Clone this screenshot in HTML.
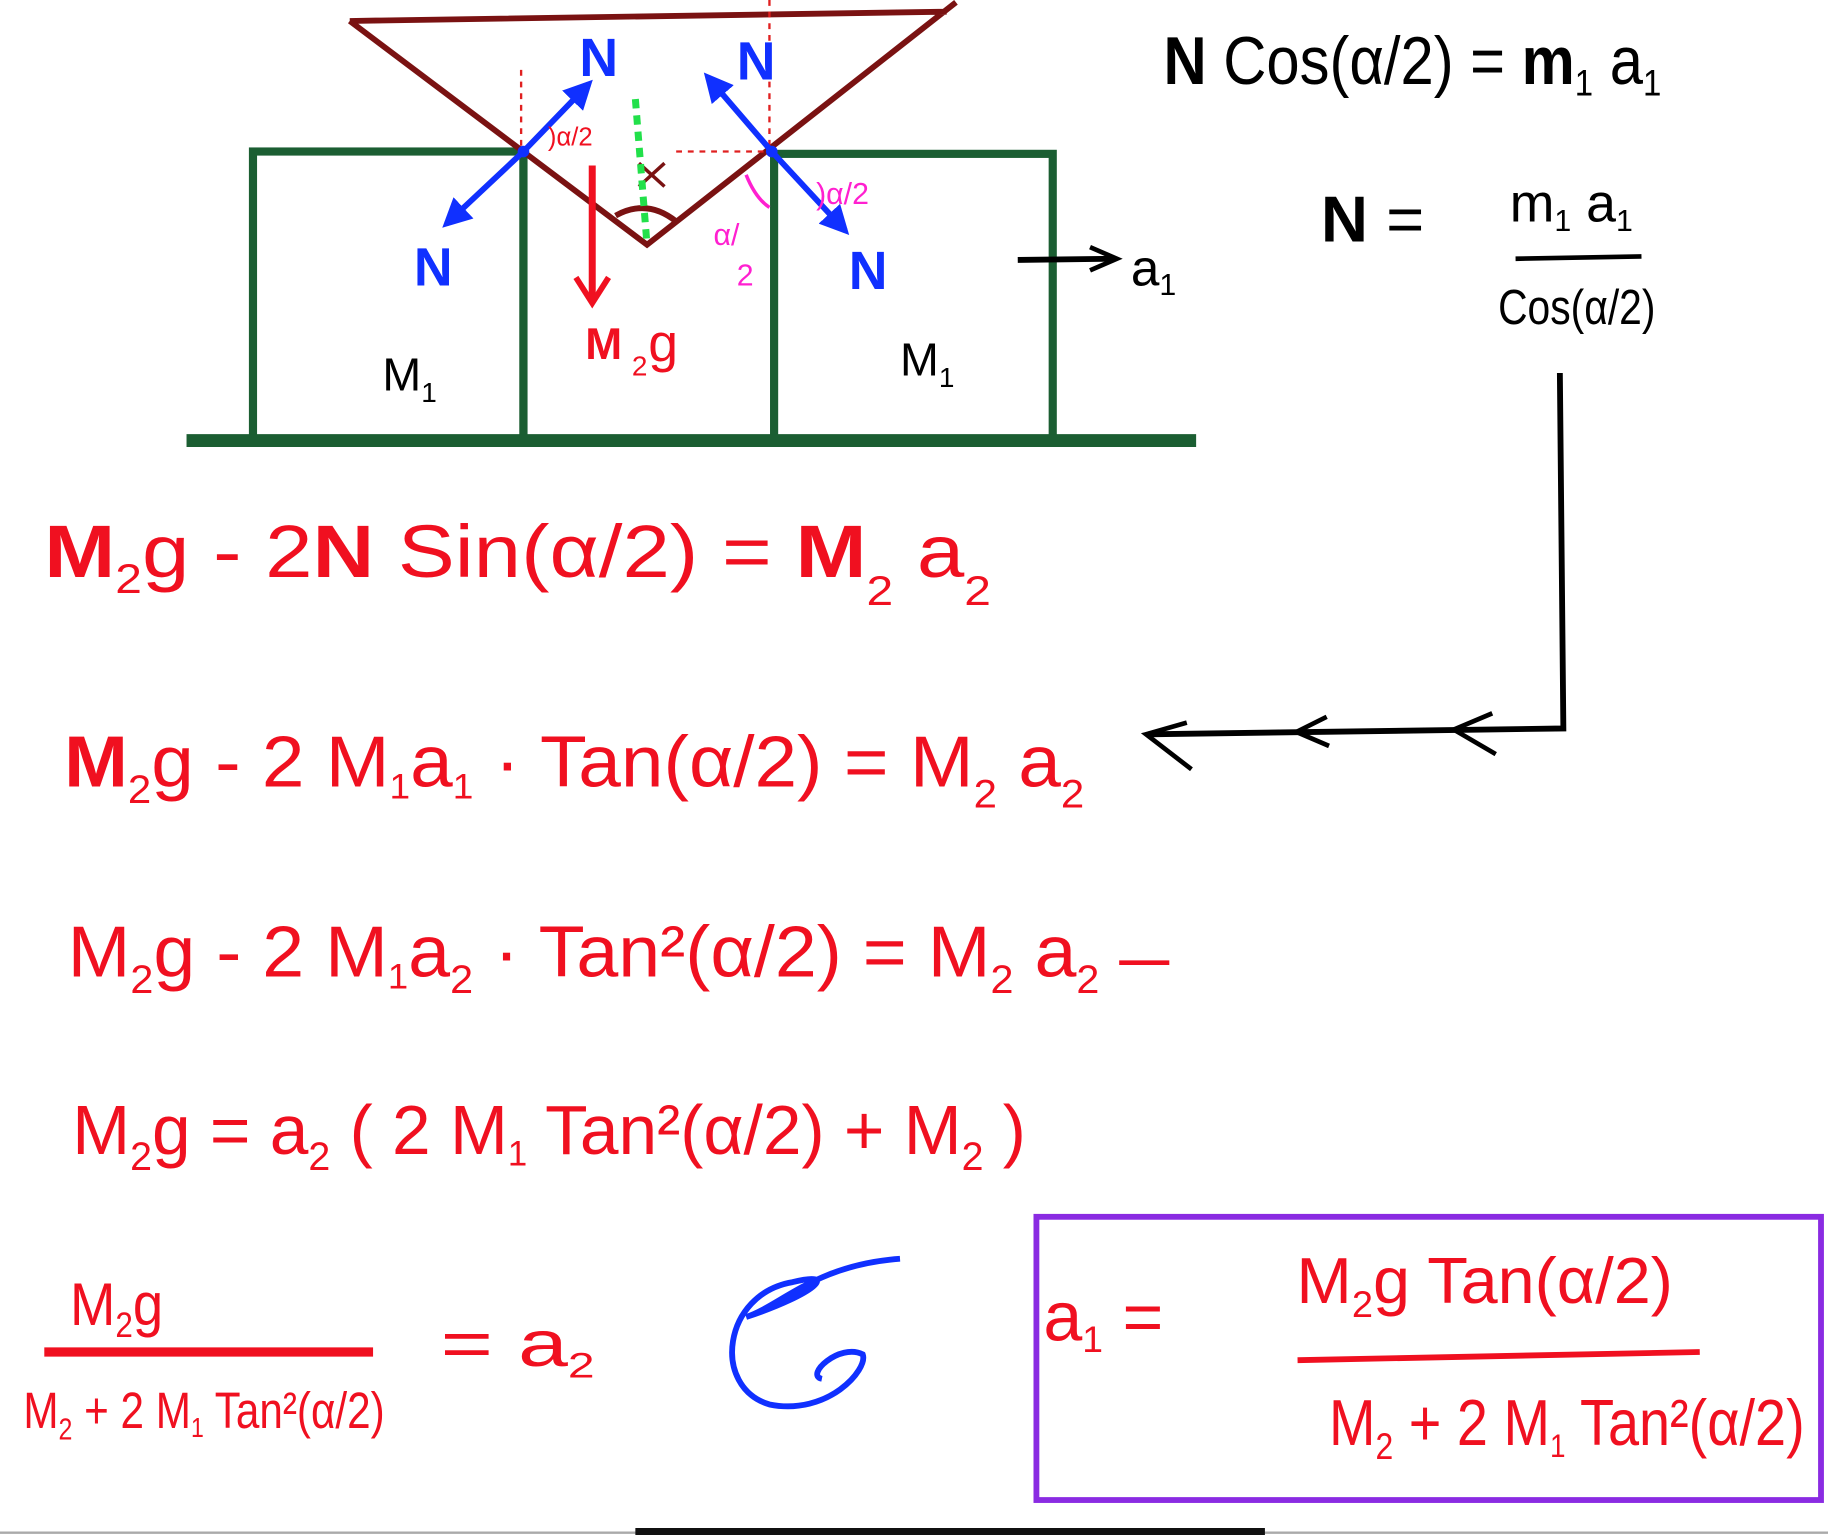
<!DOCTYPE html>
<html><head><meta charset="utf-8"><style>
html,body{margin:0;padding:0;background:#fff;}
svg{display:block;}
text{font-family:"Liberation Sans",sans-serif;}
</style></head><body>
<svg width="1828" height="1535" viewBox="0 0 1568 1317" preserveAspectRatio="none" xmlns="http://www.w3.org/2000/svg">
<defs>
<marker id="bh" viewBox="0 0 10 10" refX="8" refY="5" markerWidth="5" markerHeight="5" orient="auto"><path d="M0,0 L10,5 L0,10 z" fill="#1030ff"/></marker>
</defs>
<rect width="1568" height="1317" fill="#fff"/>
<g stroke="#1b5e32" stroke-width="7" fill="none">
<rect x="217" y="130" width="232" height="248"/>
<line x1="449" y1="130" x2="449" y2="378"/>
<rect x="664" y="132" width="239" height="246"/>
</g>
<line x1="160" y1="378" x2="1026" y2="378" stroke="#1b5e32" stroke-width="11"/>
<g stroke="#7a1212" stroke-width="5" fill="none">
<path d="M300,18 L812,10 M300,18 L555,210 L820,2"/>
<path d="M528,185 Q555,170 580,190"/>
<path d="M548,140 L570,160 M548,160 L570,140" stroke-width="3"/>
</g>
<g stroke="#e02020" stroke-width="2" stroke-dasharray="5,5" fill="none">
<line x1="447" y1="60" x2="447" y2="130"/>
<line x1="580" y1="130" x2="664" y2="130"/>
<line x1="660" y1="0" x2="660" y2="130"/>
</g>
<line x1="545" y1="85" x2="555" y2="210" stroke="#22e04a" stroke-width="6" stroke-dasharray="8,6"/>
<g stroke="#1030ff" stroke-width="5" fill="none" marker-end="url(#bh)">
<line x1="449" y1="130" x2="505" y2="72"/>
<line x1="449" y1="130" x2="383" y2="192"/>
<line x1="662" y1="130" x2="607" y2="66"/>
<line x1="662" y1="130" x2="725" y2="198"/>
</g>
<circle cx="449" cy="130" r="5" fill="#1030ff"/><circle cx="662" cy="130" r="5" fill="#1030ff"/>
<g fill="#1030ff" font-weight="bold" font-size="46">
<text x="497" y="65">N</text><text x="632" y="68">N</text>
<text x="355" y="245">N</text><text x="728" y="248">N</text>
</g>
<line x1="508" y1="142" x2="508" y2="258" stroke="#f01020" stroke-width="6"/>
<path d="M494,238 L508,260 L522,238" stroke="#f01020" stroke-width="5" fill="none"/>
<text x="502" y="308" fill="#f01020" font-weight="bold" font-size="38">M</text>
<text x="542" y="322" fill="#f01020" font-size="24">2</text>
<text x="556" y="310" fill="#f01020" font-size="46">g</text>
<text x="470" y="125" fill="#f01020" font-size="22">)α/2</text>
<g fill="#ff20d0" font-size="26"><text x="700" y="175">)α/2</text><text x="612" y="210">α/</text><text x="632" y="245">2</text></g>
<path d="M640,150 Q648,170 660,178" stroke="#ff20d0" stroke-width="3" fill="none"/>
<text x="328" y="335" font-size="40" fill="#000">M<tspan font-size="24" dy="10">1</tspan></text>
<text x="772" y="322" font-size="40" fill="#000">M<tspan font-size="24" dy="10">1</tspan></text>
<line x1="873" y1="223" x2="955" y2="222" stroke="#000" stroke-width="5"/>
<path d="M935,212 L958,222 L935,232" stroke="#000" stroke-width="4" fill="none"/>
<text x="970" y="245" font-size="44" fill="#000">a<tspan font-size="26" dy="8">1</tspan></text>
<text x="998" y="72" font-size="58" fill="#000" textLength="427" lengthAdjust="spacingAndGlyphs"><tspan font-weight="bold">N</tspan> Cos(α/2) = <tspan font-weight="bold">m</tspan><tspan font-size="32" dy="10">1</tspan><tspan dy="-10"> a</tspan><tspan font-size="32" dy="10">1</tspan></text>
<text x="1133" y="207" font-size="56" fill="#000"><tspan font-weight="bold">N</tspan> =</text>
<text x="1295" y="190" font-size="46" fill="#000">m<tspan font-size="26" dy="8">1</tspan><tspan dy="-8"> a</tspan><tspan font-size="26" dy="8">1</tspan></text>
<line x1="1300" y1="222" x2="1408" y2="220" stroke="#000" stroke-width="4"/>
<text x="1285" y="278" font-size="42" fill="#000" textLength="135" lengthAdjust="spacingAndGlyphs">Cos(α/2)</text>
<path d="M1338,320 L1341,625 L985,630" stroke="#000" stroke-width="5" fill="none"/>
<path d="M1022,660 L983,630 L1018,620 M1140,640 L1112,628 L1138,615 M1283,647 L1247,626 L1280,612" stroke="#000" stroke-width="4" fill="none"/>
<g fill="#f01020">
<text x="38" y="495" font-size="64" textLength="812" lengthAdjust="spacingAndGlyphs"><tspan font-weight="bold">M</tspan><tspan font-size="36" dy="14">2</tspan><tspan dy="-14">g - 2</tspan><tspan font-weight="bold">N</tspan> Sin(α/2) = <tspan font-weight="bold">M</tspan><tspan font-size="36" dy="24">2</tspan><tspan dy="-24"> a</tspan><tspan font-size="36" dy="24">2</tspan></text>
<text x="55" y="675" font-size="62" textLength="875" lengthAdjust="spacingAndGlyphs"><tspan font-weight="bold">M</tspan><tspan font-size="34" dy="14">2</tspan><tspan dy="-14">g -  2 M</tspan><tspan font-size="30" dy="10">1</tspan><tspan dy="-10">a</tspan><tspan font-size="30" dy="10">1</tspan><tspan dy="-10"> · Tan(α/2) = M</tspan><tspan font-size="34" dy="18">2</tspan><tspan dy="-18"> a</tspan><tspan font-size="34" dy="18">2</tspan></text>
<text x="58" y="838" font-size="62" textLength="885" lengthAdjust="spacingAndGlyphs">M<tspan font-size="34" dy="14">2</tspan><tspan dy="-14">g - 2 M</tspan><tspan font-size="30" dy="10">1</tspan><tspan dy="-10">a</tspan><tspan font-size="34" dy="14">2</tspan><tspan dy="-14"> · Tan²(α/2)  =  M</tspan><tspan font-size="34" dy="14">2</tspan><tspan dy="-14"> a</tspan><tspan font-size="34" dy="14">2</tspan></text>
<text x="62" y="990" font-size="60" textLength="818" lengthAdjust="spacingAndGlyphs">M<tspan font-size="34" dy="14">2</tspan><tspan dy="-14">g =  a</tspan><tspan font-size="34" dy="14">2</tspan><tspan dy="-14"> (  2 M</tspan><tspan font-size="30" dy="10">1</tspan><tspan dy="-10"> Tan²(α/2) + M</tspan><tspan font-size="34" dy="14">2</tspan><tspan dy="-14">  )</tspan></text>
<text x="60" y="1137" font-size="52" textLength="80" lengthAdjust="spacingAndGlyphs">M<tspan font-size="30" dy="10">2</tspan><tspan dy="-10">g</tspan></text>
<text x="20" y="1225" font-size="44" textLength="310" lengthAdjust="spacingAndGlyphs">M<tspan font-size="26" dy="10">2</tspan><tspan dy="-10"> + 2 M</tspan><tspan font-size="24" dy="8">1</tspan><tspan dy="-8"> Tan²(α/2)</tspan></text>
<text x="378" y="1172" font-size="56" textLength="132" lengthAdjust="spacingAndGlyphs">=  a<tspan font-size="30" dy="10">2</tspan></text>
<text x="895" y="1150" font-size="60">a<tspan font-size="32" dy="10">1</tspan><tspan dy="-10"> =</tspan></text>
<text x="1112" y="1118" font-size="56" textLength="323" lengthAdjust="spacingAndGlyphs">M<tspan font-size="32" dy="12">2</tspan><tspan dy="-12">g Tan(α/2)</tspan></text>
<text x="1140" y="1240" font-size="56" textLength="408" lengthAdjust="spacingAndGlyphs">M<tspan font-size="32" dy="12">2</tspan><tspan dy="-12"> + 2 M</tspan><tspan font-size="28" dy="10">1</tspan><tspan dy="-10"> Tan²(α/2)</tspan></text>
</g>
<line x1="960" y1="826" x2="1003" y2="826" stroke="#f01020" stroke-width="4"/>
<line x1="38" y1="1160" x2="320" y2="1160" stroke="#f01020" stroke-width="8"/>
<line x1="1113" y1="1167" x2="1458" y2="1160" stroke="#f01020" stroke-width="5"/>
<rect x="889" y="1044" width="673" height="243" fill="none" stroke="#8a2be2" stroke-width="5"/>
<path d="M772,1080 C700,1085 670,1120 640,1130 C700,1110 720,1090 680,1100 C620,1110 610,1190 660,1205 C710,1215 745,1175 740,1162 C720,1152 690,1180 705,1183" stroke="#1030ff" stroke-width="5" fill="none"/>
<line x1="0" y1="1315" x2="1568" y2="1315" stroke="#aaa" stroke-width="2"/>
<line x1="545" y1="1314" x2="1085" y2="1314" stroke="#111" stroke-width="6"/>
</svg>
</body></html>
